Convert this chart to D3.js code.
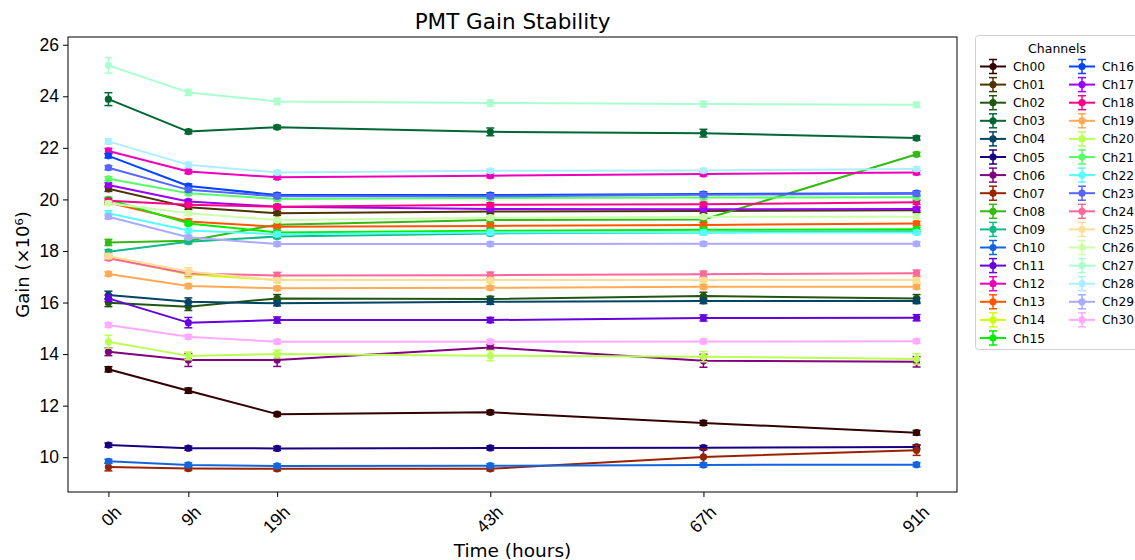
<!DOCTYPE html>
<html>
<head>
<meta charset="utf-8">
<script src="https://cdn.jsdelivr.net/npm/d3@7"></script>
<style>
  html, body { margin: 0; padding: 0; background: #fff; }
  svg { display: block; font-family: "DejaVu Sans", sans-serif; }
</style>
</head>
<body>
<svg id="chart" width="1135" height="560"></svg>
<script>
// Measurement times (hours) and their tick labels
const hours = [0, 9, 19, 43, 67, 91];
const hourLabels = ["0h", "9h", "19h", "43h", "67h", "91h"];
const yTicks = [10, 12, 14, 16, 18, 20, 22, 24, 26];

const channelNames = ["Ch00","Ch01","Ch02","Ch03","Ch04","Ch05","Ch06","Ch07","Ch08","Ch09",
  "Ch10","Ch11","Ch12","Ch13","Ch14","Ch15","Ch16","Ch17","Ch18","Ch19",
  "Ch20","Ch21","Ch22","Ch23","Ch24","Ch25","Ch26","Ch27","Ch28","Ch29","Ch30"];

const channelColors = ["#330000","#4d3300","#225511","#006633","#004466","#1a0080","#800080","#992200","#33bb11","#11bb88",
  "#1166dd","#6600dd","#ee00bb","#ff5500","#ccff00","#00ee00","#0044ff","#9900ff","#ff0088","#ffaa55",
  "#bbff55","#55ff66","#55ffff","#5566ff","#ff6699","#ffdd99","#ccffaa","#aaffcc","#aaeeff","#aaaaff","#ffaaff"];

// Mean gain (x10^6) per channel at each time
const gain = [
  [13.41, 12.58, 11.67, 11.74, 11.33, 10.95], // Ch00
  [20.41, 19.70, 19.46, 19.53, 19.55, 19.58], // Ch01
  [15.99, 15.84, 16.16, 16.14, 16.25, 16.16], // Ch02
  [23.89, 22.63, 22.80, 22.62, 22.57, 22.38], // Ch03
  [16.29, 16.03, 15.97, 16.03, 16.06, 16.06], // Ch04
  [10.47, 10.35, 10.34, 10.36, 10.37, 10.40], // Ch05
  [14.09, 13.77, 13.77, 14.26, 13.74, 13.70], // Ch06
  [ 9.62,  9.56,  9.55,  9.55, 10.01, 10.27], // Ch07
  [18.33, 18.40, 19.02, 19.20, 19.22, 21.75], // Ch08
  [17.97, 18.36, 18.56, 18.68, 18.72, 18.76], // Ch09
  [ 9.84,  9.70,  9.66,  9.67,  9.70,  9.71], // Ch10
  [16.16, 15.22, 15.32, 15.32, 15.40, 15.41], // Ch11
  [21.88, 21.08, 20.86, 20.92, 20.99, 21.04], // Ch12
  [19.88, 19.14, 18.94, 18.97, 19.01, 19.07], // Ch13
  [17.75, 17.10, 16.87, 16.87, 16.87, 16.87], // Ch14
  [20.00, 19.07, 18.72, 18.78, 18.82, 18.84], // Ch15
  [21.69, 20.52, 20.17, 20.17, 20.21, 20.24], // Ch16
  [20.56, 19.92, 19.72, 19.63, 19.62, 19.63], // Ch17
  [19.95, 19.79, 19.72, 19.79, 19.81, 19.89], // Ch18
  [17.11, 16.64, 16.55, 16.57, 16.61, 16.61], // Ch19
  [14.48, 13.93, 14.00, 13.94, 13.90, 13.81], // Ch20
  [20.80, 20.24, 20.02, 20.05, 20.07, 20.08], // Ch21
  [19.46, 18.79, 18.65, 18.72, 18.72, 18.72], // Ch22
  [21.23, 20.37, 20.12, 20.12, 20.18, 20.22], // Ch23
  [17.72, 17.13, 17.05, 17.06, 17.10, 17.14], // Ch24
  [17.80, 17.20, 16.86, 16.87, 16.87, 16.87], // Ch25
  [19.85, 19.46, 19.20, 19.29, 19.33, 19.33], // Ch26
  [25.20, 24.15, 23.80, 23.74, 23.70, 23.67], // Ch27
  [22.25, 21.34, 21.04, 21.11, 21.12, 21.18], // Ch28
  [19.33, 18.53, 18.27, 18.27, 18.28, 18.28], // Ch29
  [15.13, 14.67, 14.48, 14.48, 14.49, 14.50]  // Ch30
];

// Standard error of each mean
const gainErr = [
  [0.10, 0.10, 0.07, 0.08, 0.09, 0.09],
  [0.10, 0.09, 0.08, 0.09, 0.09, 0.09],
  [0.15, 0.15, 0.15, 0.10, 0.15, 0.15],
  [0.25, 0.08, 0.07, 0.15, 0.15, 0.08],
  [0.15, 0.15, 0.10, 0.10, 0.10, 0.10],
  [0.08, 0.08, 0.08, 0.08, 0.08, 0.08],
  [0.15, 0.25, 0.25, 0.10, 0.25, 0.20],
  [0.15, 0.08, 0.08, 0.08, 0.30, 0.20],
  [0.12, 0.08, 0.10, 0.10, 0.10, 0.08],
  [0.08, 0.08, 0.08, 0.08, 0.08, 0.08],
  [0.08, 0.08, 0.08, 0.08, 0.08, 0.08],
  [0.12, 0.20, 0.12, 0.10, 0.12, 0.12],
  [0.10, 0.08, 0.08, 0.08, 0.08, 0.08],
  [0.08, 0.10, 0.08, 0.08, 0.08, 0.08],
  [0.10, 0.15, 0.10, 0.10, 0.10, 0.10],
  [0.08, 0.08, 0.08, 0.08, 0.08, 0.08],
  [0.08, 0.08, 0.08, 0.08, 0.08, 0.08],
  [0.08, 0.08, 0.08, 0.08, 0.08, 0.08],
  [0.08, 0.08, 0.08, 0.08, 0.08, 0.08],
  [0.08, 0.08, 0.08, 0.08, 0.08, 0.08],
  [0.25, 0.15, 0.15, 0.20, 0.20, 0.20],
  [0.08, 0.08, 0.08, 0.08, 0.08, 0.08],
  [0.10, 0.08, 0.08, 0.08, 0.08, 0.08],
  [0.08, 0.08, 0.08, 0.08, 0.08, 0.08],
  [0.08, 0.10, 0.12, 0.12, 0.12, 0.12],
  [0.10, 0.15, 0.08, 0.08, 0.08, 0.08],
  [0.08, 0.08, 0.08, 0.08, 0.08, 0.08],
  [0.30, 0.12, 0.12, 0.12, 0.10, 0.10],
  [0.10, 0.10, 0.08, 0.08, 0.08, 0.08],
  [0.08, 0.08, 0.08, 0.08, 0.08, 0.08],
  [0.08, 0.08, 0.08, 0.08, 0.08, 0.08]
];

const svg = d3.select("#chart");
const plot = { left: 68, right: 957, top: 37, bottom: 492 };

const x = d3.scaleLinear().domain([-4.55, 95.55]).range([plot.left, plot.right]);
const y = d3.scaleLinear().domain([8.65, 26.3]).range([plot.bottom, plot.top]);

// Series: line, error bars with caps, circle markers
const line = d3.line().x(d => x(d.t)).y(d => y(d.v));
svg.append("clipPath").attr("id", "plotclip")
  .append("rect").attr("x", plot.left).attr("y", plot.top)
  .attr("width", plot.right - plot.left).attr("height", plot.bottom - plot.top);

const seriesLayer = svg.append("g").attr("clip-path", "url(#plotclip)");
channelNames.forEach((name, i) => {
  const pts = hours.map((t, j) => ({ t, v: gain[i][j], e: gainErr[i][j] }));
  const g = seriesLayer.append("g");
  const c = channelColors[i];
  g.append("path").datum(pts).attr("d", line)
    .attr("fill", "none").attr("stroke", c).attr("stroke-width", 2)
    .attr("stroke-linejoin", "round");
  const eb = g.selectAll("g.eb").data(pts).join("g").attr("class", "eb");
  eb.append("line")
    .attr("x1", d => x(d.t)).attr("x2", d => x(d.t))
    .attr("y1", d => y(d.v - d.e)).attr("y2", d => y(d.v + d.e))
    .attr("stroke", c).attr("stroke-width", 1.5);
  [-1, 1].forEach(s => {
    eb.append("line")
      .attr("x1", d => x(d.t) - 4).attr("x2", d => x(d.t) + 4)
      .attr("y1", d => y(d.v + s * d.e)).attr("y2", d => y(d.v + s * d.e))
      .attr("stroke", c).attr("stroke-width", 1.5);
  });
  g.selectAll("circle").data(pts).join("circle")
    .attr("cx", d => x(d.t)).attr("cy", d => y(d.v)).attr("r", 3.6)
    .attr("fill", c);
});

// Axes
const xAxis = d3.axisBottom(x).tickValues(hours).tickFormat((d, i) => hourLabels[i])
  .tickSizeOuter(0).tickSize(5).tickPadding(4);
const gx = svg.append("g").attr("transform", `translate(0,${plot.bottom})`).call(xAxis);
gx.select(".domain").remove();
gx.selectAll("line").attr("stroke", "#000").attr("stroke-width", 1);
gx.selectAll("text")
  .attr("font-size", 17.5).attr("fill", "#000")
  .attr("text-anchor", "end")
  .attr("dx", 0).attr("dy", 0)
  .attr("transform", "translate(7,15) rotate(-45)");

const yAxis = d3.axisLeft(y).tickValues(yTicks).tickSizeOuter(0).tickSize(5).tickPadding(4);
const gy = svg.append("g").attr("transform", `translate(${plot.left},0)`).call(yAxis);
gy.select(".domain").remove();
gy.selectAll("line").attr("stroke", "#000").attr("stroke-width", 1);
gy.selectAll("text").attr("font-size", 17.5).attr("fill", "#000");

svg.append("rect")
  .attr("x", plot.left).attr("y", plot.top)
  .attr("width", plot.right - plot.left).attr("height", plot.bottom - plot.top)
  .attr("fill", "none").attr("stroke", "#000").attr("stroke-width", 1);

// Titles
svg.append("text").attr("x", (plot.left + plot.right) / 2).attr("y", 29)
  .attr("text-anchor", "middle").attr("font-size", 21.5).text("PMT Gain Stability");
svg.append("text").attr("x", (plot.left + plot.right) / 2).attr("y", 557)
  .attr("text-anchor", "middle").attr("font-size", 18.5).text("Time (hours)");
svg.append("text")
  .attr("transform", `translate(29,${(plot.top + plot.bottom) / 2}) rotate(-90)`)
  .attr("text-anchor", "middle").attr("font-size", 18).text("Gain (×10⁶)");

// Legend
const lg = svg.append("g");
lg.append("rect").attr("x", 975.5).attr("y", 35.5).attr("width", 170).attr("height", 314)
  .attr("rx", 3).attr("fill", "#fff").attr("stroke", "#d0d0d0").attr("stroke-width", 1);
lg.append("text").attr("x", 1057).attr("y", 53).attr("text-anchor", "middle")
  .attr("font-size", 12.5).text("Channels");
channelNames.forEach((name, i) => {
  const col = i < 16 ? 0 : 1;
  const row = i < 16 ? i : i - 16;
  const hx = col === 0 ? 980 : 1069;
  const cy = 66.5 + row * 18.1;
  const c = channelColors[i];
  const item = lg.append("g");
  item.append("line").attr("x1", hx).attr("x2", hx + 26).attr("y1", cy).attr("y2", cy)
    .attr("stroke", c).attr("stroke-width", 2);
  item.append("line").attr("x1", hx + 13).attr("x2", hx + 13).attr("y1", cy - 7).attr("y2", cy + 7)
    .attr("stroke", c).attr("stroke-width", 1.5);
  [-7, 7].forEach(o => item.append("line").attr("x1", hx + 9).attr("x2", hx + 17)
    .attr("y1", cy + o).attr("y2", cy + o).attr("stroke", c).attr("stroke-width", 1.5));
  item.append("circle").attr("cx", hx + 13).attr("cy", cy).attr("r", 3.6).attr("fill", c);
  item.append("text").attr("x", hx + 33).attr("y", cy + 4.5).attr("font-size", 12.3).text(name);
});
</script>
</body>
</html>
